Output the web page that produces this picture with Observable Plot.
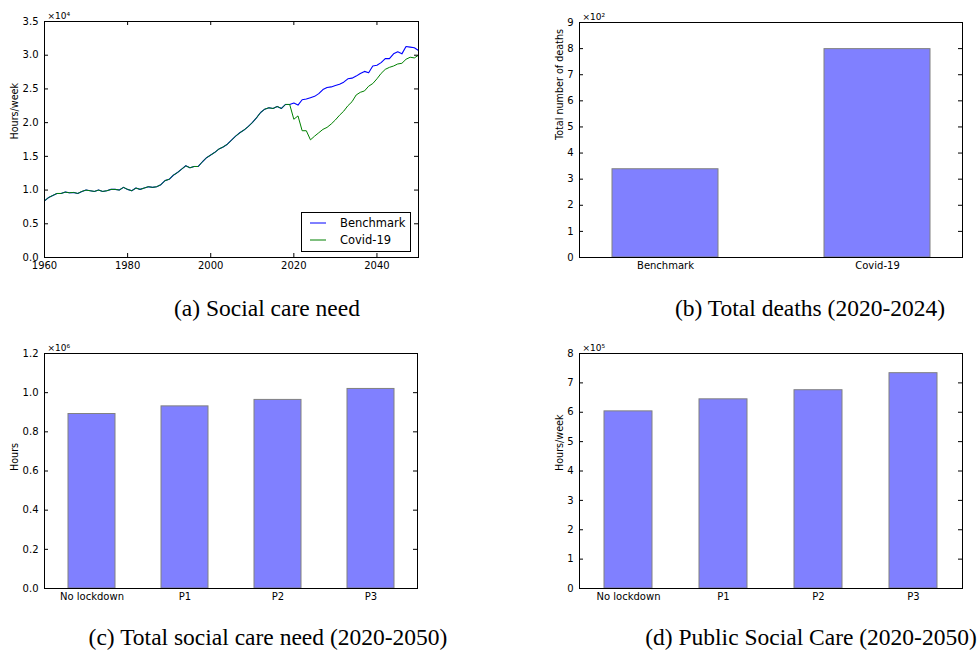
<!DOCTYPE html>
<html><head><meta charset="utf-8">
<script src="https://cdn.jsdelivr.net/npm/d3@7"></script>
<script src="https://cdn.jsdelivr.net/npm/@observablehq/plot@0.6"></script>
<style>
body{margin:0;background:#fff;}
#root{position:relative;width:980px;height:656px;overflow:hidden;font-family:"DejaVu Sans",sans-serif;background:#fff;}
.panel{position:absolute;}
.cap{position:absolute;font-family:"Liberation Serif","Times New Roman",serif;font-size:23.5px;line-height:23.5px;white-space:nowrap;transform:translateX(-50%);color:#000;}
.legend{position:absolute;left:301px;top:212px;width:108px;height:38px;border:1px solid #000;background:#fff;font-family:"DejaVu Sans",sans-serif;font-size:11.5px;}
.legend .row{position:absolute;left:0;height:14px;line-height:14px;}
.legend svg{position:absolute;left:8px;top:6px;}
.legend span{position:absolute;left:38px;top:0;white-space:nowrap;}
</style>
</head><body><div id="root"></div>
<script>
// ---- Panel (a): social care need, hours/week ----
const startYear = 1960;
const sharedNeed = [
  8400, 8900, 9200, 9500, 9500, 9700, 9600, 9650, 9500, 9800,
  10000, 9900, 9800, 10000, 9800, 9900, 10100, 10100, 10000, 10400,
  10100, 9900, 10300, 10100, 10300, 10500, 10400, 10500, 10800, 11400,
  11600, 12200, 12600, 13100, 13600, 13300, 13500, 13500, 14200, 14800,
  15200, 15600, 16100, 16400, 16800, 17400, 18000, 18500, 18900, 19400,
  20000, 20700, 21500, 22000, 22200, 22100, 22400, 22100, 22700, 22700
];
const benchmarkTail = [
  22900, 22600, 23400, 23500, 23700, 23900, 24300, 24900, 25200, 25300,
  25500, 25700, 26000, 26500, 26600, 26900, 27300, 27600, 27400, 28400,
  28500, 28900, 29500, 29500, 30200, 30500, 30200, 31300, 31200, 31100,
  30700
];
const covidTail = [
  20500, 21000, 18800, 18800, 17450, 18000, 18500, 19000, 19300, 19800,
  20400, 21100, 21700, 22500, 23100, 24100, 24500, 24700, 25400, 25800,
  26500, 27300, 27900, 28200, 28400, 28700, 28800, 29400, 29700, 29600,
  30000
];
const needXTicks = [1960, 1980, 2000, 2020, 2040];
const needYTicks = [0, 5000, 10000, 15000, 20000, 25000, 30000, 35000];

// ---- Panel (b): total deaths 2020-2024 ----
const deathCats = ["Benchmark", "Covid-19"];
const deathValues = [338, 798];
const deathYTicks = [0, 100, 200, 300, 400, 500, 600, 700, 800, 900];

// ---- Panels (c), (d) ----
const scenarioCats = ["No lockdown", "P1", "P2", "P3"];
const totalNeedValues = [891000, 930000, 963000, 1019000];
const totalNeedYTicks = [0, 200000, 400000, 600000, 800000, 1000000, 1200000];
const publicCareValues = [603000, 644000, 675000, 733000];
const publicCareYTicks = [0, 100000, 200000, 300000, 400000, 500000, 600000, 700000, 800000];

const captions = [
  "(a) Social care need",
  "(b) Total deaths (2020-2024)",
  "(c) Total social care need (2020-2050)",
  "(d) Public Social Care (2020-2050)"
];

// build tables
const benchmarkSeries = sharedNeed.concat(benchmarkTail).map((v, i) => ({year: startYear + i, value: v}));
const covidSeries = sharedNeed.concat(covidTail).map((v, i) => ({year: startYear + i, value: v}));

const root = document.getElementById("root");
const FS = 10;
const TICK = 4;

function place(svg, left, top) {
  const d = document.createElement("div");
  d.className = "panel";
  d.style.left = left + "px";
  d.style.top = top + "px";
  d.appendChild(svg);
  root.appendChild(d);
}

function innerTicksY(ticks, fw) {
  return [
    Plot.ruleY(ticks, {y: d => d, insetRight: fw - TICK, stroke: "black"}),
    Plot.ruleY(ticks, {y: d => d, insetLeft: fw - TICK, stroke: "black"})
  ];
}
function innerTicksX(ticks, fh) {
  return [
    Plot.ruleX(ticks, {x: d => d, insetTop: fh - TICK, stroke: "black"}),
    Plot.ruleX(ticks, {x: d => d, insetBottom: fh - TICK, stroke: "black"})
  ];
}
function yLabel(text, offset) {
  return Plot.text([text], {text: d => d, frameAnchor: "left", rotate: -90, dx: -offset, fontSize: 9.6, fill: "black"});
}
function multiplier(text) {
  return Plot.text([text], {text: d => d, frameAnchor: "top-left", textAnchor: "start", lineAnchor: "bottom", dx: 3, dy: -3, fontSize: 9, fill: "black"});
}

const baseStyle = {fontFamily: "DejaVu Sans, sans-serif", fontSize: FS + "px", background: "white", color: "black", overflow: "visible"};

// Panel (a)
{
  const W = 430, H = 285, ml = 44, mr = 12, mt = 21, mb = 28;
  const fw = W - ml - mr, fh = H - mt - mb;
  const svg = Plot.plot({
    width: W, height: H, marginLeft: ml, marginRight: mr, marginTop: mt, marginBottom: mb,
    style: baseStyle,
    x: {type: "linear", domain: [1960, 2050], label: null},
    y: {domain: [0, 35000], label: null},
    marks: [
      Plot.line(benchmarkSeries, {x: "year", y: "value", stroke: "#0000ff", strokeWidth: 1.1}),
      Plot.line(covidSeries, {x: "year", y: "value", stroke: "#008000", strokeWidth: 1}),
      ...innerTicksY(needYTicks, fw),
      ...innerTicksX(needXTicks, fh),
      Plot.axisY(needYTicks, {tickSize: 0, tickPadding: 6, fontSize: FS, tickFormat: d => (d / 1e4).toFixed(1), label: null}),
      Plot.axisX(needXTicks, {tickSize: 0, tickPadding: 4, fontSize: FS, tickFormat: d => String(d), label: null}),
      yLabel("Hours/week", 30),
      multiplier("×10⁴"),
      Plot.frame({stroke: "black", strokeWidth: 1})
    ]
  });
  place(svg, 0, 0);
  const lg = document.createElement("div");
  lg.className = "legend";
  lg.innerHTML =
    '<div class="row" style="top:3px;width:100%"><svg width="18" height="2" style="top:6px"><line x1="0" y1="1" x2="16" y2="1" stroke="#0000ff" stroke-width="1"/></svg><span>Benchmark</span></div>' +
    '<div class="row" style="top:20px;width:100%"><svg width="18" height="2" style="top:6px"><line x1="0" y1="1" x2="16" y2="1" stroke="#008000" stroke-width="1"/></svg><span>Covid-19</span></div>';
  root.appendChild(lg);
}

function barPanel({cats, values, yTicks, domainMax, fmt, mult, label, labelOffset, paddingOuter, left, top, W, H, ml, mr, mt, mb}) {
  const fw = W - ml - mr;
  const data = cats.map((c, i) => ({cat: c, value: values[i]}));
  const svg = Plot.plot({
    width: W, height: H, marginLeft: ml, marginRight: mr, marginTop: mt, marginBottom: mb,
    style: baseStyle,
    x: {type: "band", domain: cats, paddingInner: 0.5, paddingOuter: paddingOuter, label: null},
    y: {domain: [0, domainMax], label: null},
    marks: [
      Plot.barY(data, {x: "cat", y: "value", fill: "#8080ff", stroke: "#808080", strokeWidth: 1}),
      ...innerTicksY(yTicks, fw),
      Plot.axisY(yTicks, {tickSize: 0, tickPadding: 6, fontSize: FS, tickFormat: fmt, label: null}),
      Plot.axisX({tickSize: 0, tickPadding: 4, fontSize: FS, label: null}),
      yLabel(label, labelOffset),
      multiplier(mult),
      Plot.frame({stroke: "black", strokeWidth: 1})
    ]
  });
  place(svg, left, top);
}

barPanel({cats: deathCats, values: deathValues, yTicks: deathYTicks, domainMax: 900,
  fmt: d => String(d / 100), mult: "×10²", label: "Total number of deaths", labelOffset: 20,
  paddingOuter: 0.15, left: 540, top: 0, W: 440, H: 285, ml: 39, mr: 18, mt: 22, mb: 28});

barPanel({cats: scenarioCats, values: totalNeedValues, yTicks: totalNeedYTicks, domainMax: 1200000,
  fmt: d => (d / 1e6).toFixed(1), mult: "×10⁶", label: "Hours", labelOffset: 30,
  paddingOuter: 0.25, left: 0, top: 330, W: 430, H: 285, ml: 44, mr: 13, mt: 23, mb: 27});

barPanel({cats: scenarioCats, values: publicCareValues, yTicks: publicCareYTicks, domainMax: 800000,
  fmt: d => String(d / 1e5), mult: "×10⁵", label: "Hours/week", labelOffset: 20,
  paddingOuter: 0.25, left: 540, top: 330, W: 440, H: 285, ml: 39, mr: 18, mt: 23, mb: 27});

// captions
const capPos = [[267, 297], [810, 297], [268, 626], [811, 626]];
captions.forEach((t, i) => {
  const d = document.createElement("div");
  d.className = "cap";
  d.textContent = t;
  d.style.left = capPos[i][0] + "px";
  d.style.top = capPos[i][1] + "px";
  root.appendChild(d);
});
</script>
</body></html>
